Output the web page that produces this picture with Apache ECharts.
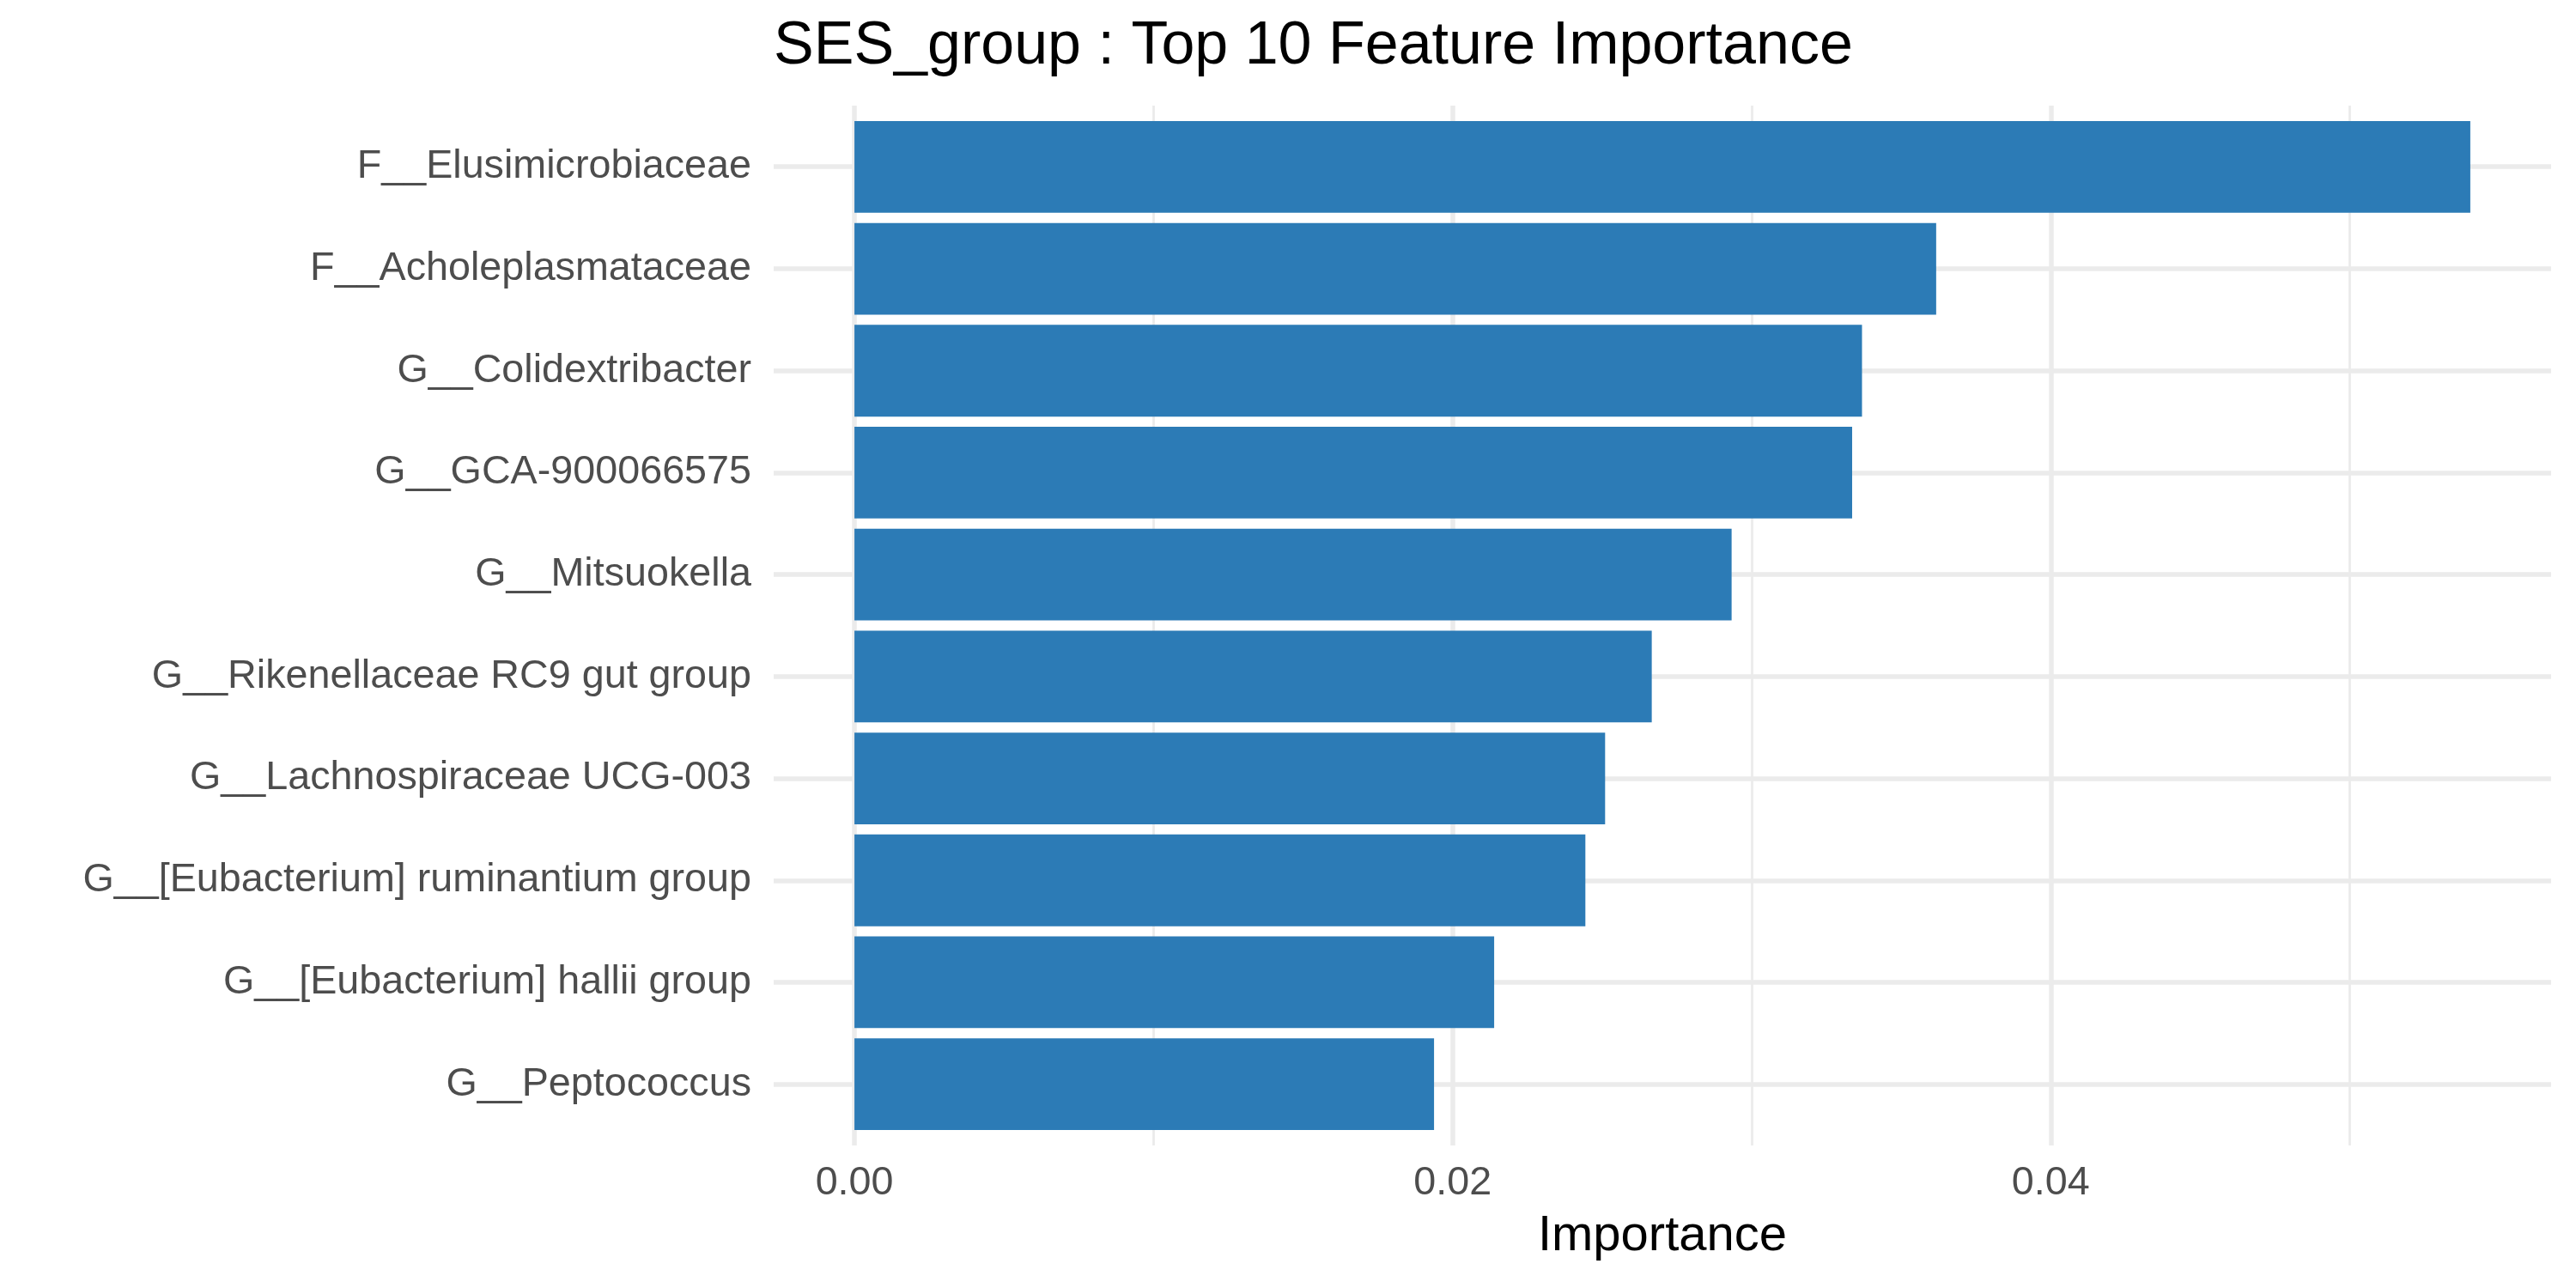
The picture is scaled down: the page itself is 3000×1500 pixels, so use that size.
<!DOCTYPE html>
<html>
<head>
<meta charset="utf-8">
<script src="https://cdn.jsdelivr.net/npm/echarts@6/dist/echarts.min.js"></script>
<style>
html,body{margin:0;padding:0;background:#fff;}
#chart{width:3000px;height:1500px;}
</style>
</head>
<body>
<div id="chart"></div>
<script>
const titleText = 'SES_group : Top 10 Feature Importance';
const axisTitle = 'Importance';
const categories = [
  'F__Elusimicrobiaceae',
  'F__Acholeplasmataceae',
  'G__Colidextribacter',
  'G__GCA-900066575',
  'G__Mitsuokella',
  'G__Rikenellaceae RC9 gut group',
  'G__Lachnospiraceae UCG-003',
  'G__[Eubacterium] ruminantium group',
  'G__[Eubacterium] hallii group',
  'G__Peptococcus'
];
const importance = [0.05403, 0.03617, 0.03369, 0.03336, 0.02933, 0.02666, 0.02510, 0.02444, 0.02139, 0.01938];
const majorTicks = [0, 0.02, 0.04];
const majorTickLabels = ['0.00', '0.02', '0.04'];
const minorTicks = [0.01, 0.03, 0.05];
const rowPositions = [1, 2, 3, 4, 5, 6, 7, 8, 9, 10];

const FONT = '"Liberation Sans", Arial, sans-serif';
const GRID_COLOR = '#EBEBEB';
const dataMax = Math.max(...importance);
const pad = dataMax * 0.05;
const xMin = -pad, xMax = dataMax + pad;

const chart = echarts.init(document.getElementById('chart'), null, {renderer: 'canvas'});
const option = {
  backgroundColor: '#ffffff',
  animation: false,
  title: {
    text: titleText, left: 901, top: 20, padding: 0,
    textStyle: {fontSize: 70, fontWeight: 'normal', color: '#000000', fontFamily: FONT}
  },
  grid: [
    {left: 901, right: 29, top: 135, bottom: 178, containLabel: false},
    {left: 901, right: 29, top: 123, bottom: 166, containLabel: false}
  ],
  xAxis: [
    {gridIndex: 0, type: 'value', min: xMin, max: xMax, show: false},
    {
      gridIndex: 1, type: 'value', min: xMin, max: xMax, position: 'bottom',
      axisLine: {show: false},
      axisTick: {show: false, customValues: majorTicks},
      axisLabel: {
        customValues: majorTicks, margin: 21, fontSize: 46.7, color: '#4D4D4D', fontFamily: FONT,
        formatter: function (v) { const i = majorTicks.indexOf(v); return i >= 0 ? majorTickLabels[i] : ''; }
      },
      splitLine: {show: true, lineStyle: {color: GRID_COLOR, width: 5.5}},
      name: axisTitle, nameLocation: 'middle', nameGap: 77,
      nameTextStyle: {fontSize: 58, color: '#000000', fontFamily: FONT}
    },
    {
      gridIndex: 1, type: 'value', min: xMin, max: xMax, position: 'bottom',
      axisLine: {show: false},
      axisTick: {show: false, customValues: minorTicks},
      axisLabel: {show: false},
      splitLine: {show: true, lineStyle: {color: GRID_COLOR, width: 2.8}}
    }
  ],
  yAxis: [
    {
      gridIndex: 0, type: 'category', data: categories, inverse: true,
      axisLine: {show: false}, axisTick: {show: false}, splitLine: {show: false},
      axisLabel: {fontSize: 46.7, color: '#4D4D4D', fontFamily: FONT, margin: 26, padding: [7, 0, 0, 0]}
    },
    {
      gridIndex: 1, type: 'value', min: 0.4, max: 10.6, inverse: true,
      axisLine: {show: false}, axisLabel: {show: false},
      axisTick: {show: false, customValues: rowPositions},
      splitLine: {show: true, lineStyle: {color: GRID_COLOR, width: 5.5}}
    }
  ],
  series: [{
    type: 'bar', xAxisIndex: 0, yAxisIndex: 0,
    data: importance, barWidth: '90%',
    itemStyle: {color: '#2C7BB6'},
    z: 5
  }]
};
chart.setOption(option);
</script>
</body>
</html>
